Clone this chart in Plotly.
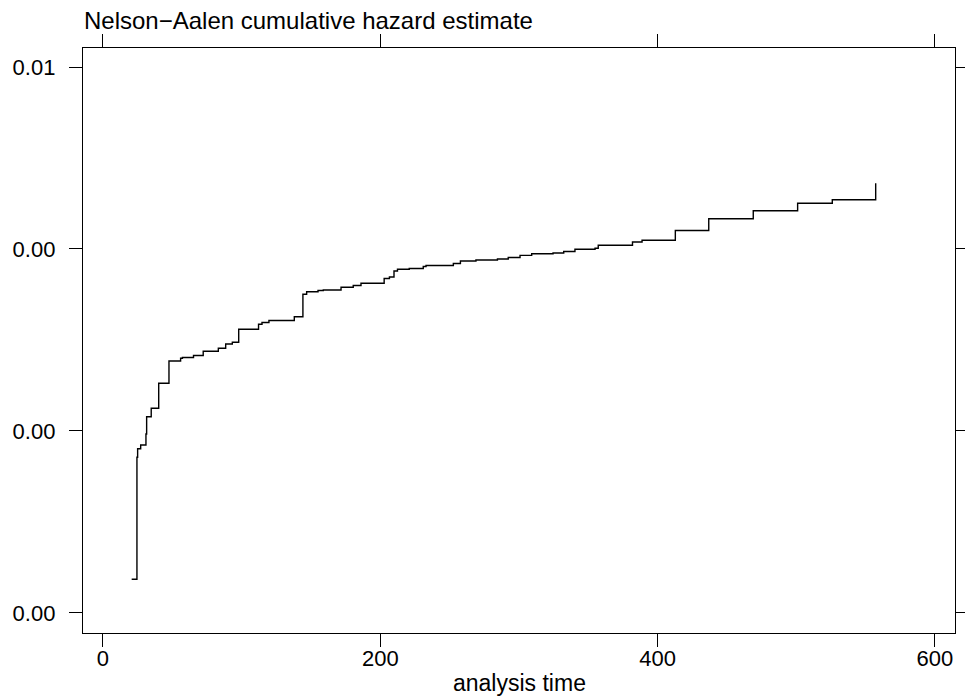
import plotly.graph_objects as go

# Nelson-Aalen step function (analysis time, cumulative hazard)
times = [20.7, 24.5, 25.0, 27.2, 31.0, 31.5, 34.8, 40.2, 47.6, 56.0, 57.3, 65.3, 72.3,
         83.2, 88.5, 93.3, 97.9, 112.2, 114.7, 119.7, 138.0, 144.2, 146.9, 155.1, 158.9,
         171.7, 180.5, 186.1, 202.8, 206.6, 209.9, 212.4, 220.9, 231.0, 233.0, 252.7,
         257.8, 269.0, 284.5, 292.3, 300.8, 309.2, 324.6, 332.3, 340.4, 354.9, 357.2,
         381.9, 388.8, 412.8, 436.9, 469.0, 501.0, 526.0, 557.3]
hazard = [0.002963, 0.004639, 0.004757, 0.004808, 0.004959, 0.005196, 0.005312, 0.005655,
          0.005962, 0.005999, 0.006010, 0.006037, 0.006095, 0.006136, 0.006195, 0.006218,
          0.006397, 0.006466, 0.006490, 0.006518, 0.006570, 0.006879, 0.006913, 0.006930,
          0.006937, 0.006974, 0.006999, 0.007030, 0.007095, 0.007115, 0.007198, 0.007221,
          0.007232, 0.007260, 0.007273, 0.007301, 0.007335, 0.007349, 0.007363, 0.007383,
          0.007413, 0.007435, 0.007445, 0.007466, 0.007496, 0.007510, 0.007551, 0.007596,
          0.007621, 0.007754, 0.007916, 0.008026, 0.008129, 0.008177, 0.008403]

x_ticks = [0, 200, 400, 600]
y_ticks = [0.0025, 0.005, 0.0075, 0.01]
y_tick_labels = ["0.00", "0.00", "0.00", "0.01"]

FONT = "Liberation Sans, Arial, sans-serif"

fig = go.Figure()
fig.add_trace(go.Scatter(
    x=times, y=hazard, mode="lines", line=dict(shape="hv", color="black", width=1.4),
    showlegend=False, hoverinfo="skip"))

axis_common = dict(
    showline=True, linecolor="black", linewidth=1.3, mirror="ticks",
    ticks="outside", ticklen=13, tickwidth=1.3, tickcolor="black",
    showgrid=False, zeroline=False, automargin=False,
    tickfont=dict(family=FONT, size=22, color="black"),
)

fig.update_layout(
    width=965, height=700,
    paper_bgcolor="white", plot_bgcolor="white",
    margin=dict(l=83, r=10, t=48, b=67, autoexpand=False),
    font=dict(family=FONT, size=22, color="black"),
    xaxis=dict(range=[-14.4, 614.5], tickvals=x_ticks, ticktext=[str(v) for v in x_ticks],
               ticklabelstandoff=-8, **axis_common),
    yaxis=dict(range=[0.002225, 0.010261], tickvals=y_ticks, ticktext=y_tick_labels,
               ticklabelstandoff=9, **axis_common),
    annotations=[
        dict(text="Nelson\u2212Aalen cumulative hazard estimate",
             xref="paper", yref="paper", x=0, y=1, xanchor="left", yanchor="middle",
             xshift=-1, yshift=28, showarrow=False,
             font=dict(family=FONT, size=24, color="black")),
        dict(text="analysis time",
             xref="paper", yref="paper", x=0.5, y=0, xanchor="center", yanchor="middle",
             yshift=-50, showarrow=False,
             font=dict(family=FONT, size=23, color="black")),
    ],
)

fig.write_html("out.html", config={"displayModeBar": False},
               post_script="document.body.style.margin='0';document.body.style.overflow='hidden';")
